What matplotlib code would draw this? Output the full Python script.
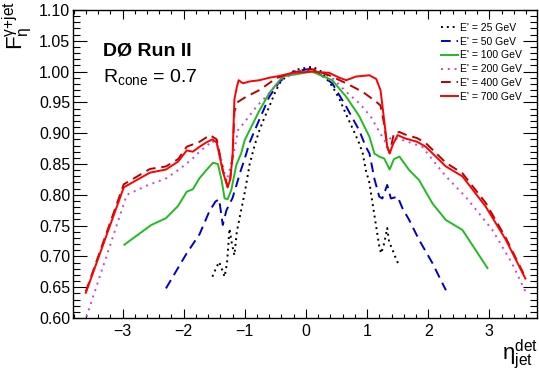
import matplotlib
matplotlib.use("Agg")
import matplotlib.pyplot as plt
from matplotlib.ticker import MultipleLocator, FormatStrFormatter

plt.rcParams['font.family'] = ['Liberation Sans', 'DejaVu Sans']
plt.rcParams['mathtext.fontset'] = 'custom'
plt.rcParams['mathtext.rm'] = 'Liberation Sans'
plt.rcParams['mathtext.it'] = 'Liberation Sans:italic'
plt.rcParams['mathtext.bf'] = 'Liberation Sans:bold'

# E' = 25 GeV
eta_25 = [-1.53, -1.47, -1.42, -1.37, -1.33, -1.29, -1.25, -1.21, -1.17, -1.13, -1.08, -1.03,
          -0.98, -0.92, -0.84, -0.76, -0.68, -0.60, -0.51, -0.43, -0.30, -0.16, 0.00, 0.11,
          0.25, 0.44, 0.55, 0.66, 0.79, 0.87, 0.93, 0.98, 1.04, 1.09, 1.15, 1.20, 1.23, 1.28,
          1.33, 1.36, 1.42, 1.47, 1.52]
f_25 = [0.667, 0.681, 0.691, 0.678, 0.667, 0.690, 0.745, 0.720, 0.702, 0.740, 0.765, 0.789,
        0.815, 0.850, 0.880, 0.905, 0.925, 0.943, 0.965, 0.981, 0.995, 1.003, 1.006, 1.008,
        1.000, 0.975, 0.955, 0.930, 0.902, 0.884, 0.867, 0.840, 0.819, 0.786, 0.748, 0.716,
        0.705, 0.721, 0.746, 0.724, 0.710, 0.697, 0.686]

# E' = 50 GeV
eta_50 = [-2.29, -1.95, -1.74, -1.58, -1.48, -1.42, -1.36, -1.30, -1.25, -1.20, -1.15, -1.08,
          -1.00, -0.92, -0.81, -0.60, -0.43, -0.20, 0.10, 0.43, 0.66, 0.87, 0.98, 1.04, 1.12,
          1.20, 1.25, 1.33, 1.39, 1.50, 1.58, 1.69, 1.85, 2.07, 2.29]
f_50 = [0.648, 0.705, 0.736, 0.773, 0.789, 0.793, 0.751, 0.775, 0.785, 0.795, 0.811, 0.835,
        0.859, 0.885, 0.911, 0.959, 0.984, 1.000, 1.005, 0.981, 0.943, 0.905, 0.878, 0.867,
        0.826, 0.797, 0.794, 0.816, 0.794, 0.797, 0.778, 0.759, 0.727, 0.689, 0.645]

# E' = 100 GeV
eta_100 = [-2.97, -2.53, -2.29, -2.09, -1.95, -1.85, -1.74, -1.63, -1.52, -1.44, -1.38, -1.33,
           -1.28, -1.22, -1.14, -1.06, -1.00, -0.89, -0.77, -0.60, -0.38, 0.10, 0.43, 0.66,
           0.87, 1.04, 1.12, 1.20, 1.28, 1.37, 1.44, 1.53, 1.61, 1.69, 1.85, 2.07, 2.29, 2.56,
           2.97]
f_100 = [0.719, 0.751, 0.762, 0.782, 0.805, 0.809, 0.827, 0.840, 0.852, 0.850, 0.824, 0.794,
         0.793, 0.808, 0.848, 0.867, 0.889, 0.911, 0.935, 0.965, 0.992, 1.000, 0.986, 0.959,
         0.928, 0.894, 0.867, 0.862, 0.859, 0.841, 0.858, 0.862, 0.851, 0.840, 0.824, 0.786,
         0.759, 0.743, 0.681]

# E' = 200 GeV
eta_200 = [-3.59, -2.93, -2.60, -2.28, -2.05, -1.85, -1.71, -1.63, -1.54, -1.45, -1.38, -1.30,
           -1.25, -1.20, -1.17, -1.11, -0.98, -0.81, -0.60, -0.38, 0.10, 0.43, 0.66, 0.87,
           1.06, 1.15, 1.25, 1.30, 1.40, 1.58, 1.90, 2.29, 2.61, 3.05, 3.37, 3.62]
f_200 = [0.602, 0.800, 0.815, 0.827, 0.843, 0.859, 0.873, 0.878, 0.888, 0.880, 0.855, 0.822,
         0.840, 0.860, 0.873, 0.905, 0.921, 0.943, 0.965, 0.990, 1.004, 0.990, 0.967, 0.949,
         0.927, 0.911, 0.894, 0.886, 0.893, 0.889, 0.878, 0.830, 0.797, 0.743, 0.689, 0.637]

# E' = 400 GeV
eta_400 = [-3.60, -2.98, -2.55, -2.29, -2.09, -1.95, -1.74, -1.57, -1.46, -1.41, -1.36, -1.28,
           -1.24, -1.20, -1.17, -1.11, -0.98, -0.76, -0.49, -0.25, 0.10, 0.38, 0.66, 0.93,
           1.15, 1.22, 1.28, 1.33, 1.37, 1.44, 1.53, 1.62, 1.82, 1.96, 2.29, 2.56, 2.94, 3.27,
           3.59]
f_400 = [0.643, 0.817, 0.842, 0.846, 0.858, 0.878, 0.886, 0.897, 0.890, 0.866, 0.840, 0.813,
         0.824, 0.862, 0.935, 0.951, 0.959, 0.970, 0.989, 0.998, 1.004, 0.994, 0.981, 0.967,
         0.951, 0.945, 0.915, 0.878, 0.868, 0.900, 0.902, 0.898, 0.892, 0.884, 0.852, 0.835,
         0.787, 0.730, 0.666]

# E' = 700 GeV
eta_700 = [-3.60, -2.98, -2.75, -2.55, -2.29, -2.09, -1.95, -1.85, -1.74, -1.63, -1.53, -1.46,
           -1.41, -1.36, -1.28, -1.24, -1.20, -1.17, -1.13, -1.10, -1.03, -0.92, -0.76, -0.60,
           -0.43, -0.22, 0.10, 0.38, 0.55, 0.66, 0.82, 1.04, 1.15, 1.22, 1.28, 1.33, 1.37,
           1.42, 1.50, 1.61, 1.82, 1.96, 2.29, 2.56, 2.94, 3.27, 3.59]
f_700 = [0.641, 0.812, 0.825, 0.836, 0.841, 0.854, 0.872, 0.870, 0.878, 0.885, 0.890, 0.885,
         0.862, 0.838, 0.812, 0.824, 0.862, 0.955, 0.975, 0.986, 0.981, 0.984, 0.986, 0.990,
         0.993, 0.998, 1.000, 0.998, 0.990, 0.986, 0.992, 0.994, 0.988, 0.970, 0.921, 0.878,
         0.867, 0.881, 0.897, 0.892, 0.886, 0.878, 0.846, 0.830, 0.781, 0.727, 0.664]

labels = ["E' = 25 GeV", "E' = 50 GeV", "E' = 100 GeV",
          "E' = 200 GeV", "E' = 400 GeV", "E' = 700 GeV"]

W, H = 539, 374
fig = plt.figure(figsize=(W / 100, H / 100), dpi=100)
ax = fig.add_axes([73 / W, 1 - 318 / H, (537 - 73) / W, 308 / H])

lw = 1.4
ax.plot(eta_25, f_25, color='black', lw=lw, ls=(0, (1, 2)), label=labels[0])
ax.plot(eta_50, f_50, color='#0000cc', lw=lw, ls=(0, (5, 3)), label=labels[1])
ax.plot(eta_100, f_100, color='#22bb22', lw=lw, ls='-', label=labels[2])
ax.plot(eta_200, f_200, color='#cc44cc', lw=lw, ls=(0, (1, 2.5)), label=labels[3])
ax.plot(eta_400, f_400, color='#bb0000', lw=lw, ls=(0, (5, 3)), label=labels[4])
ax.plot(eta_700, f_700, color='#ff0000', lw=lw, ls='-', label=labels[5])

ax.set_xlim(-3.81, 3.78)
ax.set_ylim(0.60, 1.10)
ax.set_xticks([-3, -2, -1, 0, 1, 2, 3])
ax.xaxis.set_minor_locator(MultipleLocator(0.2))
ax.yaxis.set_major_locator(MultipleLocator(0.05))
ax.yaxis.set_minor_locator(MultipleLocator(0.01))
ax.yaxis.set_major_formatter(FormatStrFormatter('%.2f'))
ax.tick_params(which='both', direction='in', top=True, right=True, width=0.8)
ax.tick_params(axis='x', which='major', length=6.5, pad=4, labelsize=11.5)
ax.tick_params(axis='x', which='minor', length=3.2)
ax.tick_params(axis='y', which='major', length=10, pad=2, labelsize=11.5)
ax.tick_params(axis='y', which='minor', length=5)
for s in ax.spines.values():
    s.set_linewidth(1.0)

leg = ax.legend(loc='upper left', bbox_to_anchor=(441 / W, 1 - 23 / H),
                bbox_transform=fig.transFigure, frameon=False, fontsize=7.5,
                handlelength=1.6, handletextpad=0.2, labelspacing=0.36,
                borderpad=0, borderaxespad=0)

fig.text(103 / W, 1 - 55 / H, 'DØ Run II', fontsize=14, fontweight='bold', va='baseline')
fig.text(103 / W, 1 - 82 / H, r'R$_{\mathrm{cone}}$ = 0.7', fontsize=14, va='baseline')

fig.text(17 / W, 1 - 1 / H, r'$\mathrm{F}_{\mathrm{η}}^{\mathrm{γ{+}jet}}$', fontsize=16,
         rotation=90, ha='center', va='top')
fig.text(538 / W, 3 / H, r'$\mathrm{η}_{\mathrm{jet}}^{\mathrm{det}}$', fontsize=16,
         ha='right', va='bottom')

fig.savefig('out.png', dpi=100)
